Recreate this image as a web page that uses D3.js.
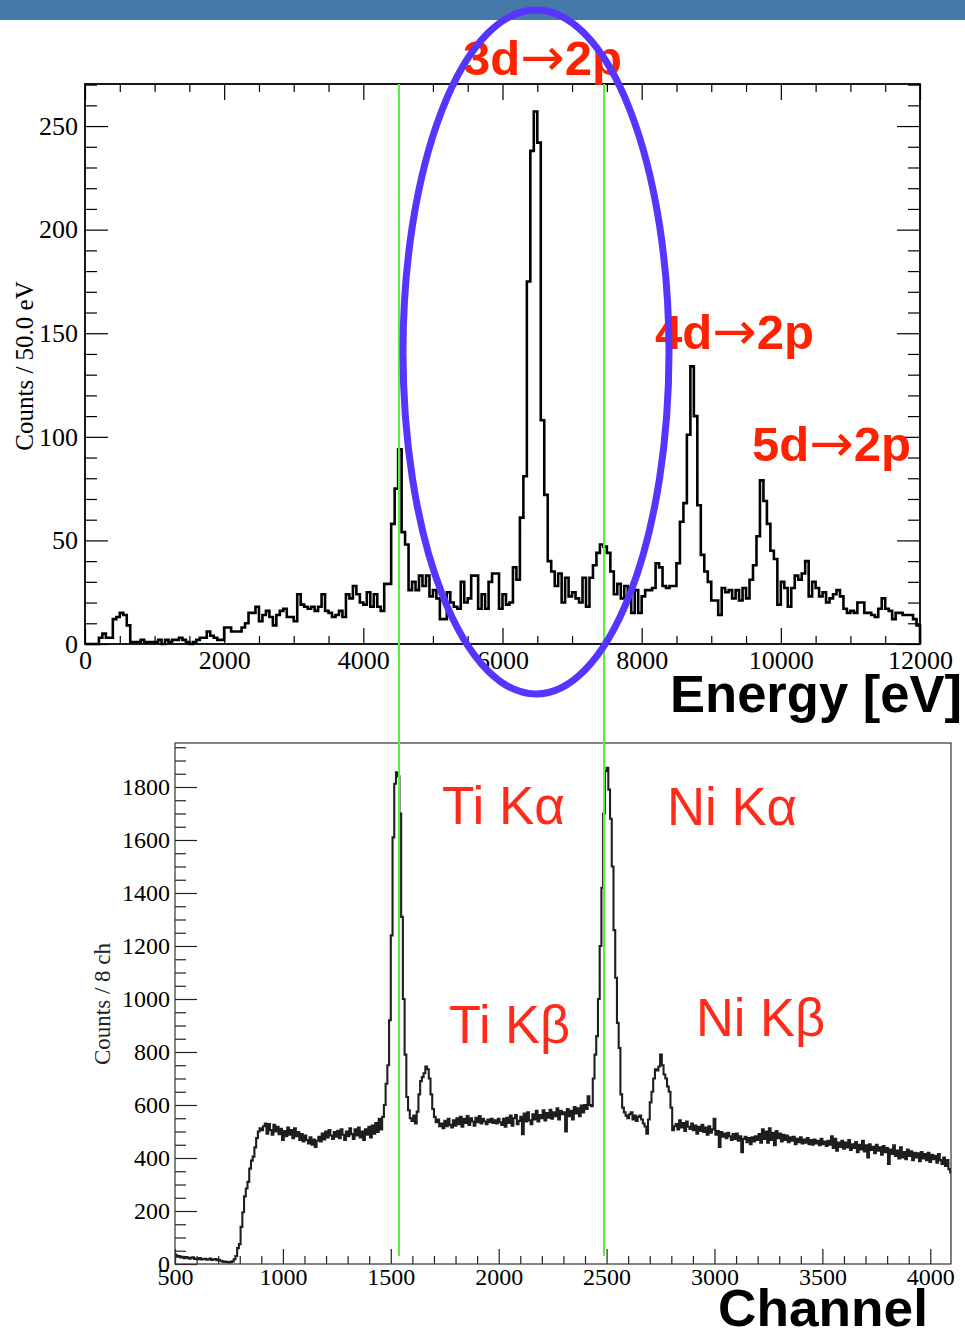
<!DOCTYPE html>
<html><head><meta charset="utf-8">
<script src="https://cdn.jsdelivr.net/npm/d3@7"></script>
<style>body{margin:0;background:#fff} svg{display:block}</style>
</head><body>
<svg id="c" width="965" height="1328"></svg>
<script>
// ---------- DATA ----------
// Top histogram: counts per 50 eV bin, 0 .. 12000 eV
const topBinWidth = 50;
const topCounts = [
  0,0,0,0,3,5,3,3,12,13,15,14,9,1,1,1,2,1,1,1,
  1,2,0,2,1,2,2,3,2,1,0,1,2,3,3,6,4,3,2,2,
  8,8,6,6,6,8,10,15,15,18,11,14,16,13,9,14,16,17,13,13,
  11,24,19,18,17,18,16,18,24,16,15,13,14,16,13,24,22,28,24,20,
  19,25,18,24,18,16,29,29,58,75,94,54,48,26,30,26,33,28,33,23,
  26,22,12,12,25,20,18,17,30,20,22,33,33,17,24,17,30,34,34,17,
  24,19,20,37,31,61,81,175,238,257,242,108,72,40,35,28,34,20,32,23,
  25,22,20,32,18,32,38,44,48,47,44,35,24,29,22,28,24,15,26,15,
  23,26,26,27,39,37,28,27,28,28,39,59,68,101,134,110,67,43,35,30,
  21,21,14,27,25,26,22,26,21,27,22,31,38,52,79,69,58,45,41,19,
  30,27,18,27,33,31,34,40,23,30,27,23,25,20,22,24,26,23,17,15,
  16,15,20,20,15,15,14,13,17,22,17,16,12,15,15,14,14,14,12,9
];
// Bottom histogram: counts per 8 channels starting at channel 500
const bottomStart = 500, bottomBinWidth = 8;
const bottomCounts = [
  35,28,30,25,27,22,26,24,20,23,25,19,21,18,22,17,19,20,16,18,21,15,17,19,14,16,12,10,8,9,7,6,8,10,18,30,
  60,75,140,195,255,285,310,360,390,405,440,475,500,512,505,520,
  530,492,528,505,488,525,500,518,490,510,468,502,482,515,488,505,475,512,482,498,
  468,490,462,485,468,455,478,450,470,442,465,480,462,492,470,500,478,505,485,472,
  498,480,503,475,508,488,468,500,482,512,490,472,508,485,515,478,500,468,508,488,
  518,478,522,492,532,498,548,508,555,
  600,680,750,920,1240,1610,1812,1855,1840,1700,1310,1000,790,630,580,550,540,560,530,575,
  640,690,705,720,745,735,700,640,585,555,535,545,520,530,
  512,540,520,548,525,515,542,522,550,528,555,518,548,532,558,525,550,538,522,552,
  535,558,530,548,538,528,545,535,548,532,542,530,548,535,525,548,518,552,532,560,
  522,550,562,528,540,555,490,568,538,572,542,528,565,545,578,538,562,550,580,542,
  570,552,582,548,572,558,588,545,578,565,572,500,585,558,578,545,592,568,588,558,
  598,572,600,
  585,633,600,595,700,790,860,1000,1200,1420,1700,1860,1872,1790,1680,1500,1260,1080,910,815,
  640,590,572,560,550,565,572,545,560,540,555,560,545,530,519,492,545,610,650,700,
  735,730,745,790,750,715,700,670,650,590,505,520,
  528,508,542,515,532,502,538,518,510,530,505,522,492,518,502,525,498,515,488,520,
  495,508,548,488,502,442,498,480,492,475,495,482,468,490,472,492,465,482,422,472,
  480,460,475,452,478,462,482,468,490,458,508,472,500,458,512,468,495,448,502,475,
  492,462,488,468,485,460,478,465,480,452,472,460,478,455,470,458,475,452,468,450,
  470,455,465,448,472,452,462,445,465,450,482,438,472,428,458,442,465,435,458,440,
  468,430,452,438,460,422,450,432,465,425,448,402,452,430,442,418,450,428,440,412,
  445,422,438,378,432,415,448,408,428,398,440,402,422,395,432,408,425,392,420,402,
  418,388,422,398,415,392,420,385,412,395,408,382,415,392,378,402,370,392,358,345
];
const topXTicks = [0,2000,4000,6000,8000,10000,12000];
const topYTicks = [0,50,100,150,200,250];
const botXTicks = [500,1000,1500,2000,2500,3000,3500,4000];
const botYTicks = [0,200,400,600,800,1000,1200,1400,1600,1800];
const markerChannels = [1538, 2488];           // green guide lines (bottom axis)
const transitionLabels = [["3d","2p"],["4d","2p"],["5d","2p"]];
const lineLabels = ["Ti K\u03b1","Ni K\u03b1","Ti K\u03b2","Ni K\u03b2"];
const topYTitle = "Counts / 50.0 eV", botYTitle = "Counts / 8 ch";
const topXTitle = "Energy [eV]", botXTitle = "Channel";

// ---------- DRAW ----------
const svg = d3.select("#c");
svg.append("rect").attr("x",0).attr("y",0).attr("width",965).attr("height",20).attr("fill","#4479aa");

const xT = d3.scaleLinear().domain([0,12000]).range([85,920]);
const yT = d3.scaleLinear().domain([0,270.3]).range([644,84]);
const xB = d3.scaleLinear().domain([500,4096]).range([175,951]);
const yB = d3.scaleLinear().domain([0,1966]).range([1264,743]);

function histPoints(counts, start, w){
  const pts=[[start,0]];
  counts.forEach((c,i)=>{pts.push([start+i*w,c],[start+(i+1)*w,c]);});
  pts.push([start+counts.length*w,0]);
  return pts;
}
function styleAxis(g, size, color){
  g.select(".domain").remove();
  g.selectAll(".tick line").attr("stroke",color).attr("stroke-width",1.2);
  g.selectAll("text").attr("font-family","'Liberation Serif','Times New Roman',serif")
    .attr("font-size",size).attr("fill","#000");
  g.attr("font-family",null).attr("font-size",null);
}

// ---- top chart ----
const gt = svg.append("g");
const tYMinor = d3.range(0,271,10).filter(v=>v%50!==0);
const tXMinor = d3.range(0,12001,500).filter(v=>v%2000!==0);
gt.append("g").attr("transform","translate(85,0)")
  .call(d3.axisLeft(yT).tickValues(topYTicks).tickSize(-23).tickPadding(7).tickFormat(d3.format("d")))
  .call(g=>styleAxis(g,26,"#000"));
gt.append("g").attr("transform","translate(85,0)")
  .call(d3.axisLeft(yT).tickValues(tYMinor).tickSize(-12).tickFormat(""))
  .call(g=>styleAxis(g,26,"#000"));
gt.append("g").attr("transform","translate(920,0)")
  .call(d3.axisRight(yT).tickValues(topYTicks).tickSize(-23).tickFormat(""))
  .call(g=>styleAxis(g,26,"#000"));
gt.append("g").attr("transform","translate(920,0)")
  .call(d3.axisRight(yT).tickValues(tYMinor).tickSize(-12).tickFormat(""))
  .call(g=>styleAxis(g,26,"#000"));
gt.append("g").attr("transform","translate(0,644)")
  .call(d3.axisBottom(xT).tickValues(topXTicks).tickSize(-16).tickPadding(7).tickFormat(d3.format("d")))
  .call(g=>styleAxis(g,26,"#000"));
gt.append("g").attr("transform","translate(0,644)")
  .call(d3.axisBottom(xT).tickValues(tXMinor).tickSize(-8).tickFormat(""))
  .call(g=>styleAxis(g,26,"#000"));
gt.append("g").attr("transform","translate(0,84)")
  .call(d3.axisTop(xT).tickValues(topXTicks).tickSize(-16).tickFormat(""))
  .call(g=>styleAxis(g,26,"#000"));
gt.append("g").attr("transform","translate(0,84)")
  .call(d3.axisTop(xT).tickValues(tXMinor).tickSize(-8).tickFormat(""))
  .call(g=>styleAxis(g,26,"#000"));

gt.append("path")
  .attr("d", d3.line().x(d=>xT(d[0])).y(d=>yT(d[1]))(histPoints(topCounts,0,topBinWidth)))
  .attr("fill","none").attr("stroke","#000").attr("stroke-width",2.6).attr("stroke-linejoin","miter");
gt.append("rect").attr("x",85).attr("y",84).attr("width",835).attr("height",560)
  .attr("fill","none").attr("stroke","#000").attr("stroke-width",1.8);

gt.append("text").attr("transform","translate(33,366) rotate(-90)").attr("text-anchor","middle")
  .attr("font-family","'Liberation Serif','Times New Roman',serif").attr("font-size",25).text(topYTitle);

// ---- bottom chart ----
const gb = svg.append("g");
const bYMinor = d3.range(0,1951,50).filter(v=>v%200!==0);
const bXMinor = d3.range(500,4001,100).filter(v=>v%500!==0);
gb.append("g").attr("transform","translate(175,0)")
  .call(d3.axisLeft(yB).tickValues(botYTicks).tickSize(-22).tickPadding(5).tickFormat(d3.format("d")))
  .call(g=>styleAxis(g,24,"#222"));
gb.append("g").attr("transform","translate(175,0)")
  .call(d3.axisLeft(yB).tickValues(bYMinor).tickSize(-11).tickFormat(""))
  .call(g=>styleAxis(g,24,"#222"));
gb.append("g").attr("transform","translate(0,1264)")
  .call(d3.axisBottom(xB).tickValues(botXTicks).tickSize(-15).tickPadding(4).tickFormat(d3.format("d")))
  .call(g=>styleAxis(g,24,"#222"));
gb.append("g").attr("transform","translate(0,1264)")
  .call(d3.axisBottom(xB).tickValues(bXMinor).tickSize(-8).tickFormat(""))
  .call(g=>styleAxis(g,24,"#222"));

svg.append("clipPath").attr("id","clipB").append("rect").attr("x",175).attr("y",743).attr("width",776).attr("height",521);
gb.append("path").attr("clip-path","url(#clipB)")
  .attr("d", d3.line().x(d=>xB(d[0])).y(d=>yB(d[1]))(histPoints(bottomCounts,bottomStart,bottomBinWidth)))
  .attr("fill","none").attr("stroke","#1e1e1e").attr("stroke-width",2.1).attr("stroke-linejoin","miter");
gb.append("rect").attr("x",175).attr("y",743).attr("width",776).attr("height",521)
  .attr("fill","none").attr("stroke","#333").attr("stroke-width",1.2);

gb.append("text").attr("transform","translate(110,1004) rotate(-90)").attr("text-anchor","middle")
  .attr("font-family","'Liberation Serif','Times New Roman',serif").attr("font-size",23).attr("fill","#222").text(botYTitle);

// ---- green guide lines ----
svg.selectAll("line.guide").data(markerChannels).join("line").attr("class","guide")
  .attr("x1",d=>xB(d)).attr("x2",d=>xB(d)).attr("y1",84).attr("y2",1256)
  .attr("stroke","#5ded3a").attr("stroke-width",2);

// ---- annotations ----
const sans = "'Liberation Sans',Arial,Helvetica,sans-serif";
const tPos = [[463,75],[655,349],[752,461]];
const tr = svg.selectAll("text.tr").data(transitionLabels).join("text").attr("class","tr")
  .attr("x",(d,i)=>tPos[i][0]).attr("y",(d,i)=>tPos[i][1])
  .attr("font-family",sans).attr("font-weight","bold").attr("font-size",48).attr("fill","#ff2200")
  .attr("textLength",159).attr("lengthAdjust","spacingAndGlyphs");
tr.append("tspan").text(d=>d[0]);
tr.append("tspan").attr("font-family","'DejaVu Sans'").attr("font-weight","normal").attr("font-size",52).text("\u2192");
tr.append("tspan").text(d=>d[1]);

const lPos = [[442,824,123],[667,825,130],[449,1043,121],[696,1036,129]];
svg.selectAll("text.ln").data(lineLabels).join("text").attr("class","ln")
  .attr("x",(d,i)=>lPos[i][0]).attr("y",(d,i)=>lPos[i][1])
  .attr("font-family",sans).attr("font-size",53).attr("fill","#ff2a1a")
  .attr("textLength",(d,i)=>lPos[i][2]).attr("lengthAdjust","spacingAndGlyphs").text(d=>d);

svg.append("text").attr("x",670).attr("y",712).attr("font-family",sans).attr("font-weight","bold")
  .attr("font-size",51).attr("textLength",292).attr("lengthAdjust","spacingAndGlyphs").text(topXTitle);
svg.append("text").attr("x",718).attr("y",1326).attr("font-family",sans).attr("font-weight","bold")
  .attr("font-size",52).attr("textLength",210).attr("lengthAdjust","spacingAndGlyphs").text(botXTitle);

// ---- ellipse ----
svg.append("ellipse").attr("cx",536).attr("cy",352).attr("rx",133).attr("ry",342)
  .attr("fill","none").attr("stroke","#5535ff").attr("stroke-width",7);
</script>
</body></html>
